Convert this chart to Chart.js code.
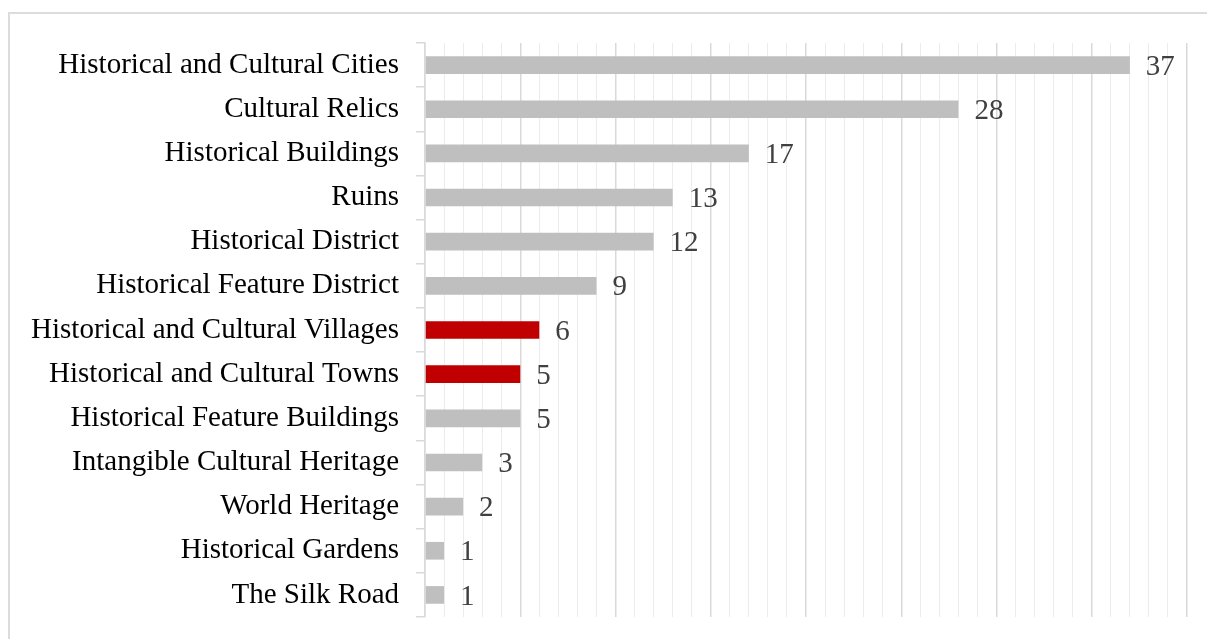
<!DOCTYPE html>
<html>
<head>
<meta charset="utf-8">
<script src="https://cdn.jsdelivr.net/npm/chart.js@4/dist/chart.umd.min.js"></script>
<style>
  html, body { margin: 0; padding: 0; background: #fff; overflow: hidden; }
  #frame { position: absolute; left: 8px; top: 12px; width: 1400px; height: 800px; border: 2px solid #dcdcdc; }
  #wrap { position: absolute; left: 0; top: 0; width: 1207px; height: 639px; }
</style>
</head>
<body>
<div id="frame"></div>
<div id="wrap"><canvas id="chart"></canvas></div>
<script>
const categories = [
  "Historical and Cultural Cities",
  "Cultural Relics",
  "Historical Buildings",
  "Ruins",
  "Historical District",
  "Historical Feature District",
  "Historical and Cultural Villages",
  "Historical and Cultural Towns",
  "Historical Feature Buildings",
  "Intangible Cultural Heritage",
  "World Heritage",
  "Historical Gardens",
  "The Silk Road"
];
const counts = [37, 28, 17, 13, 12, 9, 6, 5, 5, 3, 2, 1, 1];
const highlighted = [6, 7];

const barColors = counts.map((v, i) => highlighted.includes(i) ? "#c00000" : "#bfbfbf");

const valueLabels = {
  id: "valueLabels",
  afterDatasetsDraw(chart) {
    const ctx = chart.ctx;
    const meta = chart.getDatasetMeta(0);
    ctx.save();
    ctx.font = "29px 'Liberation Serif', 'Times New Roman', serif";
    ctx.fillStyle = "#404040";
    ctx.textAlign = "left";
    ctx.textBaseline = "middle";
    meta.data.forEach((bar, i) => {
      ctx.fillText(String(counts[i]), bar.x + 16, bar.y + 2);
    });
    ctx.restore();
  }
};

new Chart(document.getElementById("chart"), {
  type: "bar",
  data: {
    labels: categories,
    datasets: [{
      data: counts,
      backgroundColor: barColors,
      barPercentage: 0.5,
      categoryPercentage: 0.8
    }]
  },
  options: {
    indexAxis: "y",
    responsive: true,
    maintainAspectRatio: false,
    animation: false,
    layout: { padding: { top: 43, right: 20, bottom: 22, left: 0 } },
    plugins: { legend: { display: false }, tooltip: { enabled: false } },
    scales: {
      x: {
        min: 0,
        max: 40,
        ticks: { display: false, stepSize: 1 },
        border: { display: false },
        grid: {
          drawTicks: false,
          color: c => c.tick && c.tick.value % 5 === 0 ? "#d9d9d9" : "#ececec",
          lineWidth: c => c.tick && c.tick.value % 5 === 0 ? 1.5 : 1
        },
        afterFit: s => { s.height = 0; }
      },
      y: {
        border: { display: true, color: "#d9d9d9", width: 1.5 },
        grid: { drawOnChartArea: false, tickLength: 9, color: "#d9d9d9", lineWidth: 1.5 },
        ticks: {
          color: "#000",
          padding: 17,
          autoSkip: false,
          font: { family: "'Liberation Serif', 'Times New Roman', serif", size: 29 }
        },
        afterFit: s => { s.width = 425; s.paddingTop = 0; s.paddingBottom = 0; }
      }
    }
  },
  plugins: [valueLabels]
});
</script>
</body>
</html>
